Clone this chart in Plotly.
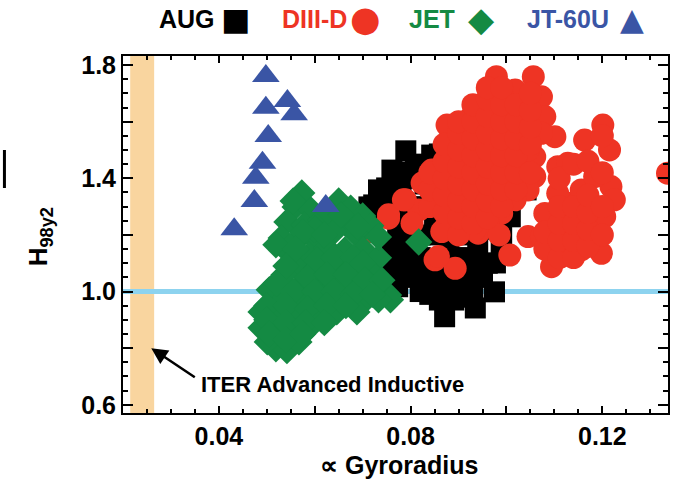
import plotly.graph_objects as go

# ---------------- data ----------------
aug_x = [0.0950, 0.0790, 0.0860, 0.0775, 0.0750, 0.0723, 0.0717, 0.1008, 0.1041, 0.0989,
         0.0977, 0.0937, 0.0975, 0.0935, 0.0871, 0.0873, 0.0837, 0.0812, 0.0773, 0.0761,
         0.0844, 0.0761, 0.0733, 0.0713, 0.0706, 0.0761, 0.0773, 0.0858,
         0.082, 0.085, 0.088, 0.090, 0.092, 0.088, 0.083, 0.079, 0.080, 0.082,
         0.086, 0.090, 0.094, 0.096, 0.098, 0.094, 0.096, 0.092, 0.090, 0.085,
         0.080, 0.078, 0.091, 0.080, 0.093, 0.089, 0.084,
         0.078, 0.081, 0.087, 0.075, 0.078, 0.083, 0.086, 0.089, 0.093, 0.096,
         0.092, 0.088, 0.084, 0.082, 0.086, 0.079, 0.075, 0.091, 0.095, 0.099,
         0.100, 0.100]
aug_y = [1.641, 1.497, 1.486, 1.422, 1.366, 1.306, 1.253, 1.264, 1.359, 1.158,
         1.101, 1.059, 0.999, 0.942, 0.911, 1.017, 1.041, 1.087, 1.017, 1.087,
         1.482, 1.429, 1.359, 1.299, 1.242, 1.147, 1.218, 1.034,
         1.20, 1.25, 1.15, 1.20, 1.30, 1.35, 1.38, 1.30, 1.22, 1.12,
         1.10, 1.10, 1.15, 1.22, 1.30, 1.40, 1.55, 1.60, 1.50, 1.42,
         1.40, 1.15, 1.05, 1.05, 1.00, 0.97, 0.99,
         1.35, 1.45, 1.45, 1.30, 1.25, 1.30, 1.20, 1.25, 1.25, 1.10,
         1.12, 1.05, 1.05, 1.00, 0.97, 1.10, 1.05, 0.98, 1.05, 1.20,
         1.30, 1.40]

d3d_x = [0.0979, 0.1056, 0.1018, 0.1073, 0.1080, 0.1101, 0.0876, 0.0927, 0.0990, 0.0962,
         0.1045, 0.1073, 0.1059, 0.1059, 0.1045, 0.1018, 0.0990, 0.0962, 0.0941, 0.0914,
         0.0893, 0.0907, 0.0920, 0.0907, 0.0976, 0.1010, 0.0962, 0.0941, 0.0851, 0.0824,
         0.0789, 0.0754, 0.0713, 0.0817, 0.0851, 0.0865, 0.0851, 0.0893, 0.1007, 0.0920,
         0.1045, 0.1094, 0.1115, 0.1080, 0.1107, 0.1128, 0.1163, 0.1201, 0.1215, 0.1218,
         0.1225, 0.1205, 0.1198, 0.1170, 0.1128, 0.1156, 0.1184, 0.1114, 0.1142, 0.1336,
         0.1073, 0.1107, 0.1156, 0.0934, 0.0879, 0.0990, 0.1024, 0.0948, 0.0997, 0.1045,
         0.0803, 0.0889, 0.0934, 0.0754, 0.0785, 0.0858, 0.0844, 0.0858,
         0.0950, 0.0975, 0.1000, 0.1030, 0.0930, 0.0960, 0.1000, 0.0880, 0.0910, 0.0985,
         0.084, 0.084, 0.084, 0.087, 0.087, 0.087, 0.087, 0.087, 0.087,
         0.090, 0.090, 0.090, 0.090, 0.090, 0.090, 0.090, 0.090,
         0.093, 0.093, 0.093, 0.093, 0.093, 0.093, 0.093, 0.093,
         0.096, 0.096, 0.096, 0.096, 0.096, 0.096, 0.096, 0.096, 0.096,
         0.099, 0.099, 0.099, 0.099, 0.099, 0.099, 0.099, 0.099,
         0.102, 0.102, 0.102, 0.102, 0.102, 0.102,
         0.105, 0.105, 0.105, 0.105, 0.105,
         0.108, 0.108, 0.111, 0.111, 0.111, 0.111, 0.111,
         0.114, 0.114, 0.114, 0.114, 0.114, 0.117, 0.117, 0.117, 0.117, 0.117,
         0.120, 0.120, 0.120, 0.120]
d3d_y = [1.759, 1.759, 1.712, 1.688, 1.618, 1.547, 1.588, 1.618, 1.700, 1.641,
         1.641, 1.559, 1.476, 1.406, 1.359, 1.324, 1.277, 1.241, 1.206, 1.241,
         1.300, 1.383, 1.500, 1.559, 1.500, 1.441, 1.383, 1.324, 1.429, 1.383,
         1.324, 1.259, 1.212, 1.288, 1.335, 1.212, 1.112, 1.082, 1.129, 1.265,
         1.194, 1.088, 1.124, 1.276, 1.441, 1.453, 1.535, 1.588, 1.500, 1.371,
         1.324, 1.265, 1.135, 1.194, 1.312, 1.359, 1.406, 1.218, 1.265, 1.418,
         1.194, 1.347, 1.147, 1.441, 1.465, 1.571, 1.547, 1.547, 1.383, 1.500,
         1.241, 1.241, 1.218, 1.271, 1.324, 1.383, 1.429, 1.124,
         1.600, 1.450, 1.600, 1.420, 1.350, 1.300, 1.500, 1.250, 1.440, 1.200,
         1.30, 1.36, 1.42, 1.22, 1.28, 1.34, 1.40, 1.46, 1.52,
         1.20, 1.26, 1.32, 1.38, 1.44, 1.50, 1.56, 1.60,
         1.24, 1.30, 1.36, 1.42, 1.48, 1.54, 1.60, 1.66,
         1.26, 1.32, 1.38, 1.44, 1.50, 1.56, 1.62, 1.68, 1.72,
         1.30, 1.36, 1.42, 1.48, 1.54, 1.60, 1.66, 1.72,
         1.36, 1.42, 1.48, 1.54, 1.60, 1.66,
         1.42, 1.52, 1.58, 1.64, 1.70,
         1.15, 1.21, 1.12, 1.18, 1.24, 1.30, 1.40,
         1.12, 1.18, 1.24, 1.30, 1.45, 1.16, 1.22, 1.28, 1.34, 1.46,
         1.20, 1.30, 1.42, 1.55]

jet_x = [0.0573, 0.0559, 0.0592, 0.0542, 0.0578, 0.0613, 0.0530, 0.0563, 0.0598,
         0.0650, 0.0630, 0.0675, 0.0700, 0.0661, 0.0717, 0.0640, 0.0688,
         0.0519, 0.0551, 0.0588, 0.0625, 0.0663, 0.0702, 0.0733, 0.0567, 0.0605, 0.0642,
         0.0679, 0.0717, 0.0536, 0.0573, 0.0613, 0.0650, 0.0688, 0.0725, 0.0754, 0.0758,
         0.0505, 0.0538, 0.0578, 0.0619, 0.0661, 0.0702, 0.0733, 0.0488, 0.0521, 0.0563,
         0.0605, 0.0646, 0.0688, 0.0488, 0.0517, 0.0555, 0.0588, 0.0519, 0.0542, 0.0567,
         0.0501, 0.0733, 0.0817,
         0.0555, 0.0600, 0.0575, 0.0620, 0.0655, 0.0690, 0.0560, 0.0605, 0.0640, 0.0680,
         0.0700, 0.0540, 0.0585, 0.0625, 0.0665, 0.0705, 0.0740, 0.0520, 0.0555, 0.0600,
         0.0640, 0.0680, 0.0720, 0.0500, 0.0540, 0.0585, 0.0625, 0.0665, 0.0500, 0.0540,
         0.0580, 0.0620, 0.0505, 0.0540, 0.0575]
jet_y = [1.348, 1.299, 1.288, 1.246, 1.235, 1.253, 1.189, 1.182, 1.189,
         1.320, 1.281, 1.295, 1.267, 1.246, 1.232, 1.211, 1.200,
         1.165, 1.129, 1.129, 1.154, 1.147, 1.147, 1.119, 1.077, 1.084, 1.094,
         1.084, 1.069, 1.059, 1.024, 1.034, 1.034, 1.024, 1.013, 0.988, 0.971,
         1.006, 0.978, 0.971, 0.978, 0.971, 0.964, 0.971, 0.928, 0.918, 0.907,
         0.921, 0.928, 0.928, 0.872, 0.854, 0.847, 0.872, 0.798, 0.791, 0.822,
         0.822, 1.193, 1.175,
         1.32, 1.22, 1.21, 1.20, 1.27, 1.23, 1.15, 1.11, 1.12, 1.12,
         1.10, 1.09, 1.05, 1.06, 1.06, 1.04, 1.04, 1.03, 1.00, 1.00,
         1.00, 0.99, 0.99, 0.95, 0.95, 0.94, 0.95, 0.95, 0.90, 0.89,
         0.89, 0.89, 0.85, 0.83, 0.85]

jt60_x = [0.0498, 0.0543, 0.0498, 0.0557, 0.0503, 0.0491, 0.0477, 0.0474, 0.0432, 0.0623]
jt60_y = [1.761, 1.673, 1.649, 1.626, 1.549, 1.455, 1.402, 1.320, 1.220, 1.302]

x_tickvals = [0.04, 0.06, 0.08, 0.10, 0.12]
x_ticktext = ["0.04", " ", "0.08", " ", "0.12"]
y_tickvals = [0.6, 0.8, 1.0, 1.2, 1.4, 1.6, 1.8]
y_ticktext = ["0.6", " ", "1.0", " ", "1.4", " ", "1.8"]

iter_band = [0.0215, 0.0265]
ref_level = 1.0

# ---------------- figure ----------------
W, H = 677, 482
ML, MR, MT, MB = 123, 7, 56, 69
PW, PH = W - ML - MR, H - MT - MB


def px(xp):
    return (xp - ML) / PW


def py(yp):
    return (H - MB - yp) / PH


FONT = "Liberation Sans, Arial, Helvetica, sans-serif"
RED = "#EE3424"
GREEN = "#148A43"
BLUE = "#3A55A5"
NOLINE = dict(width=0)

fig = go.Figure()
fig.add_trace(go.Scatter(x=aug_x, y=aug_y, mode="markers", name="AUG",
                         marker=dict(symbol="square", size=21, color="#000000", line=NOLINE)))
fig.add_trace(go.Scatter(x=d3d_x, y=d3d_y, mode="markers", name="DIII-D",
                         marker=dict(symbol="circle", size=23, color=RED, line=NOLINE)))
fig.add_trace(go.Scatter(x=jet_x, y=jet_y, mode="markers", name="JET",
                         marker=dict(symbol="diamond", size=21, color=GREEN, line=NOLINE)))
fig.add_trace(go.Scatter(x=jt60_x, y=jt60_y, mode="markers", name="JT-60U",
                         marker=dict(symbol="triangle-up", size=24, color=BLUE, line=NOLINE)))

fig.add_shape(type="rect", xref="x", yref="paper", x0=iter_band[0], x1=iter_band[1],
              y0=0, y1=1, fillcolor="#F9D59F", line=dict(width=0), layer="below")
fig.add_shape(type="line", xref="paper", yref="y", x0=0, x1=1, y0=ref_level, y1=ref_level,
              line=dict(color="#8DD3EF", width=5), layer="below")
# stray mark at the left edge of the original figure
fig.add_shape(type="line", xref="paper", yref="paper", x0=px(4), x1=px(4), y0=py(188), y1=py(150),
              line=dict(color="black", width=3))

axis_common = dict(showgrid=False, zeroline=False, showline=True, linewidth=2, linecolor="black",
                   mirror="allticks", ticks="inside", tickwidth=2, tickcolor="black",
                   tickfont=dict(family=FONT, size=25, color="black", weight="bold"))

fig.update_xaxes(range=[0.02, 0.1337], tickmode="array", tickvals=x_tickvals, ticktext=x_ticktext,
                 ticklen=7,
                 minor=dict(tickmode="linear", tick0=0, dtick=0.005, ticklen=4, tickwidth=1.5,
                            ticks="inside", tickcolor="black", showgrid=False),
                 **axis_common)
fig.update_yaxes(range=[0.571, 1.832], tickmode="array", tickvals=y_tickvals, ticktext=y_ticktext,
                 ticklen=10,
                 minor=dict(tickmode="linear", tick0=0, dtick=0.05, ticklen=5, tickwidth=1.5,
                            ticks="inside", tickcolor="black", showgrid=False),
                 **axis_common)

annotations = []
# legend-like header
legend_items = [
    ("AUG", "#000000", "■", 187.5, 236, 31),
    ("DIII-D", RED, "●", 315, 366, 35),
    ("JET", GREEN, "◆", 433, 483, 34),
    ("JT-60U", BLUE, "▲", 569.5, 634, 31),
]
for name, col, glyph, xt, xg, gs in legend_items:
    annotations.append(dict(text=name, x=px(xt), y=py(19), xref="paper", yref="paper",
                            showarrow=False, xanchor="center", yanchor="middle",
                            font=dict(family=FONT, size=25, color=col, weight="bold")))
    annotations.append(dict(text=glyph, x=px(xg), y=py(19), xref="paper", yref="paper",
                            showarrow=False, xanchor="center", yanchor="middle",
                            font=dict(family="DejaVu Sans", size=gs, color=col)))

# axis titles
annotations.append(dict(text="∝ Gyroradius", x=px(400), y=py(465), xref="paper", yref="paper",
                        showarrow=False, xanchor="center", yanchor="middle",
                        font=dict(family=FONT, size=25, color="black", weight="bold")))
annotations.append(dict(text="H<sub>98y2</sub>", x=px(39), y=py(237), xref="paper", yref="paper",
                        showarrow=False, xanchor="center", yanchor="middle", textangle=-90,
                        font=dict(family=FONT, size=26, color="black", weight="bold")))

# ITER annotation
annotations.append(dict(text="ITER Advanced Inductive", x=px(333.5), y=py(384), xref="paper",
                        yref="paper", showarrow=False, xanchor="center", yanchor="middle",
                        font=dict(family=FONT, size=22, color="black", weight="bold")))
annotations.append(dict(text="", x=0.0259, y=0.80, xref="x", yref="y", showarrow=True,
                        ax=45, ay=30, arrowhead=2, arrowsize=1.3, arrowwidth=2.5,
                        arrowcolor="black"))

fig.update_layout(width=W, height=H, margin=dict(l=ML, r=MR, t=MT, b=MB),
                  paper_bgcolor="white", plot_bgcolor="white", showlegend=False,
                  annotations=annotations,
                  font=dict(family=FONT, size=25, color="black"))

fig.write_html("out.html")
